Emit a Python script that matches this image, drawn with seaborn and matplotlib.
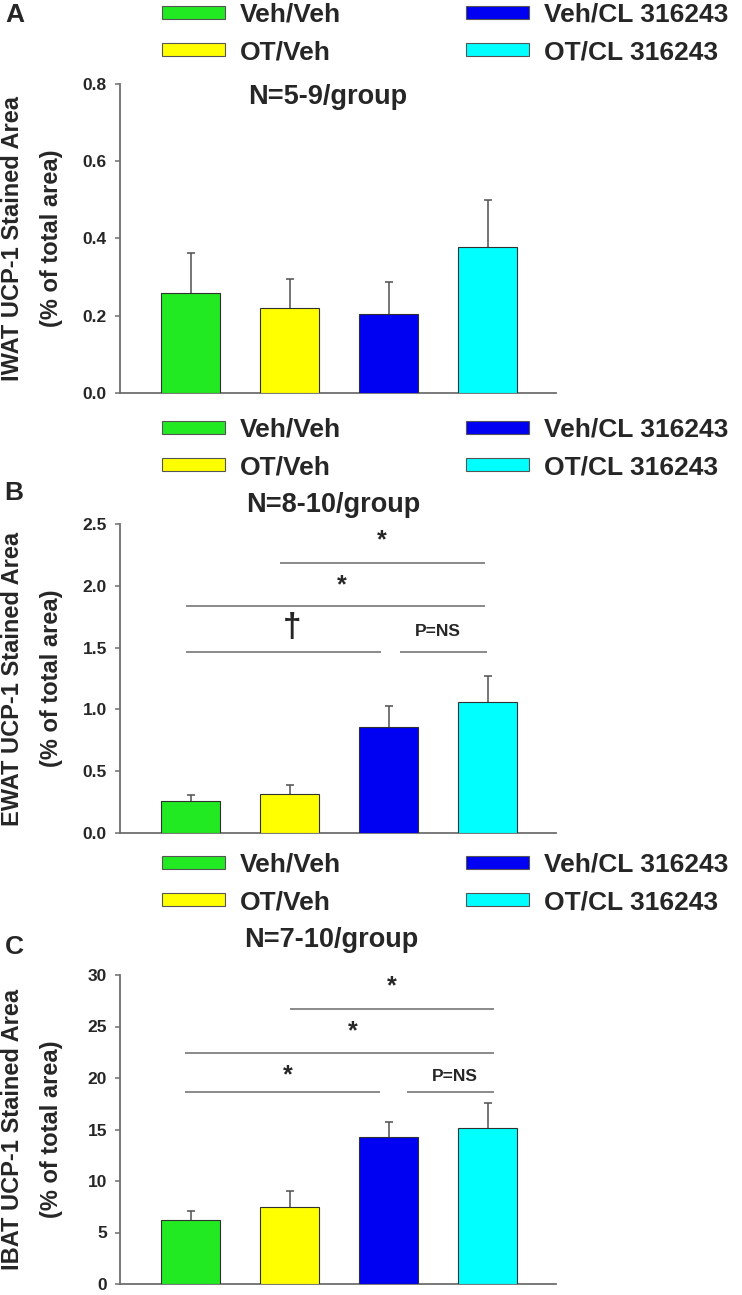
import matplotlib
matplotlib.use('Agg')
import matplotlib.pyplot as plt
import seaborn as sns
import pandas as pd
import numpy as np
from matplotlib.patches import Patch
from matplotlib.ticker import FormatStrFormatter, MultipleLocator

# ---------------- data ----------------
groups = ['Veh/Veh', 'OT/Veh', 'Veh/CL 316243', 'OT/CL 316243']
colors = ['#22EA22', '#FFFF00', '#0000F2', '#00FFFF']

iwat_mean = [0.259, 0.220, 0.205, 0.378]
iwat_sem = [0.103, 0.076, 0.082, 0.122]

ewat_mean = [0.261, 0.315, 0.854, 1.059]
ewat_sem = [0.043, 0.070, 0.175, 0.213]

ibat_mean = [6.21, 7.48, 14.30, 15.11]
ibat_sem = [0.91, 1.55, 1.40, 2.43]

n_labels = ['N=5-9/group', 'N=8-10/group', 'N=7-10/group']
panel_letters = ['A', 'B', 'C']
ylabels = ['IWAT UCP-1 Stained Area', 'EWAT UCP-1 Stained Area', 'IBAT UCP-1 Stained Area']
ylabel2 = '(% of total area)'

# significance brackets: (x_start, x_end, y)
ewat_lines = [(0.90, 2.97, 2.184), (-0.05, 2.97, 1.837), (-0.05, 1.92, 1.464), (2.11, 2.99, 1.464)]
ewat_marks = [(1.93, 2.37, '*'), (1.53, 2.00, '*'), (1.03, 1.66, '\u2020'), (2.50, 1.63, 'P=NS')]
ibat_lines = [(1.00, 3.06, 26.7), (-0.06, 3.06, 22.4), (-0.06, 1.91, 18.64), (2.19, 3.06, 18.64)]
ibat_marks = [(2.03, 28.9, '*'), (1.64, 24.5, '*'), (0.98, 20.3, '*'), (2.67, 20.1, 'P=NS')]

# ---------------- style ----------------
sns.set_style('ticks')
plt.rcParams['font.family'] = ['Liberation Sans', 'DejaVu Sans']
plt.rcParams['font.weight'] = 'bold'

W, H = 742, 1295
fig = plt.figure(figsize=(W / 100, H / 100), dpi=100)

axis_gray = '#6E6E6E'
line_gray = '#8A8A8A'

panels = [
    dict(mean=iwat_mean, sem=iwat_sem, ymax=0.8, step=0.2, fmt='%.1f', top=84,
         leg_mid=33.5, n_xy=(328, 97), letter_xy=(15, 15), lines=[], marks=[]),
    dict(mean=ewat_mean, sem=ewat_sem, ymax=2.5, step=0.5, fmt='%.1f', top=524,
         leg_mid=448.5, n_xy=(333, 505), letter_xy=(14, 493), lines=ewat_lines, marks=ewat_marks),
    dict(mean=ibat_mean, sem=ibat_sem, ymax=30, step=5, fmt='%d', top=975,
         leg_mid=883.5, n_xy=(331, 940), letter_xy=(14, 947), lines=ibat_lines, marks=ibat_marks),
]

ax_left, ax_w, ax_h = 120, 436, 309

for i, p in enumerate(panels):
    bottom = H - (p['top'] + ax_h)
    ax = fig.add_axes([ax_left / W, bottom / H, ax_w / W, ax_h / H])
    df = pd.DataFrame({'group': pd.Categorical(groups, categories=groups, ordered=True),
                       'value': p['mean']})
    sns.barplot(data=df, x='group', y='value', hue='group', palette=colors,
                order=groups, hue_order=groups, width=0.6, saturation=1,
                edgecolor='#303030', linewidth=0.8, errorbar=None, legend=False, ax=ax)
    eb = ax.errorbar(range(len(groups)), p['mean'], yerr=[[0] * len(groups), p['sem']],
                     fmt='none', ecolor='#505050', elinewidth=1.1, capsize=3.2, capthick=1.1,
                     zorder=2)
    for cl in eb[1]:
        if np.allclose(np.asarray(cl.get_ydata(), dtype=float), p['mean']):
            cl.set_visible(False)
    for bar in ax.patches:
        bar.set_zorder(3)

    ax.set_xlim(-0.712, 3.69)
    ax.set_ylim(0, p['ymax'])
    ax.yaxis.set_major_locator(MultipleLocator(p['step']))
    ax.yaxis.set_major_formatter(FormatStrFormatter(p['fmt']))
    ax.set_xticks([])
    ax.set_xlabel('')
    ax.set_ylabel('')
    for s in ['top', 'right']:
        ax.spines[s].set_visible(False)
    for s in ['left', 'bottom']:
        ax.spines[s].set_color(axis_gray)
        ax.spines[s].set_linewidth(1.3)
    ax.tick_params(axis='y', direction='out', length=3.6, width=1.1, color=axis_gray,
                   pad=5.8, labelsize=12.5)
    for lab in ax.get_yticklabels():
        lab.set_fontweight('bold')

    # y labels (two lines)
    ax.text((13 - ax_left) / ax_w, 0.5, ylabels[i], transform=ax.transAxes, rotation=90,
            ha='center', va='center', fontsize=17, fontweight='bold')
    ax.text((52 - ax_left) / ax_w, 0.5, ylabel2, transform=ax.transAxes, rotation=90,
            ha='center', va='center', fontsize=17, fontweight='bold')

    # significance brackets
    for x1, x2, y in p['lines']:
        ax.plot([x1, x2], [y, y], color=line_gray, lw=1.4, solid_capstyle='butt', zorder=4)
    for x, y, t in p['marks']:
        if t == 'P=NS':
            ax.text(x, y, t, ha='center', va='center', fontsize=12.5, fontweight='bold')
        elif t == '\u2020':
            ax.text(x, y, t, ha='center', va='center', fontsize=24, fontweight='bold')
        else:
            ax.text(x, y, t, ha='center', va='center', fontsize=18, fontweight='bold')

    # N label
    fig.text(p['n_xy'][0] / W, 1 - p['n_xy'][1] / H, n_labels[i], ha='center', va='center',
             fontsize=19.5, fontweight='bold')
    # panel letter
    fig.text(p['letter_xy'][0] / W, 1 - p['letter_xy'][1] / H, panel_letters[i], ha='center',
             va='center', fontsize=19, fontweight='bold')

    # legend
    handles = [Patch(facecolor=c, edgecolor='#555555', linewidth=0.8, label=g)
               for c, g in zip(colors, groups)]
    fig.legend(handles=handles, ncol=2, loc='center left',
               bbox_to_anchor=(162 / W, 1 - p['leg_mid'] / H),
               bbox_transform=fig.transFigure, frameon=False, borderpad=0,
               borderaxespad=0, handlelength=2.39, handleheight=0.34,
               handletextpad=0.57, columnspacing=4.73, labelspacing=0.5,
               prop={'size': 19, 'weight': 'bold'})

fig.savefig('out.png', dpi=100)
